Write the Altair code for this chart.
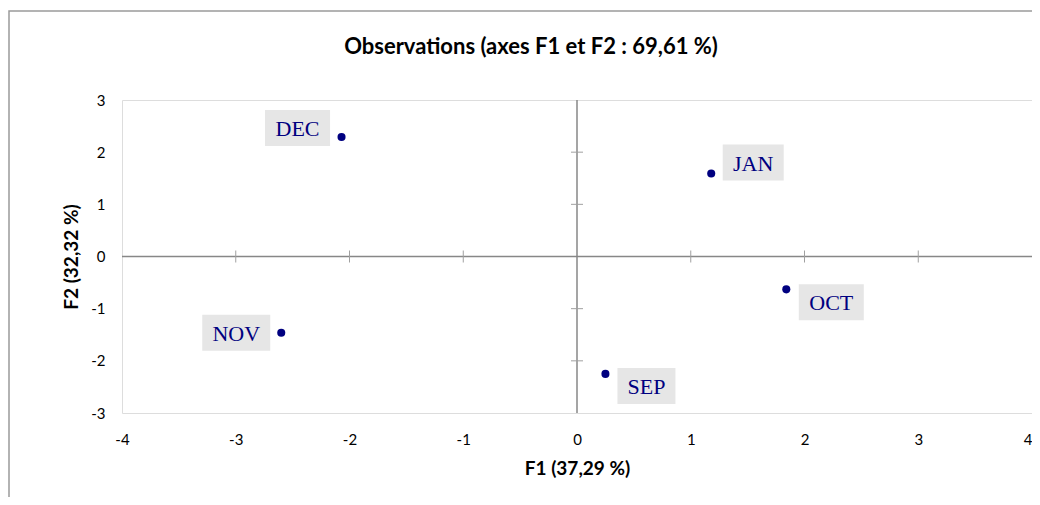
import altair as alt
import pandas as pd

# ---- data ----
months = ["DEC", "JAN", "OCT", "NOV", "SEP"]
f1 = [-2.07, 1.18, 1.84, -2.60, 0.25]
f2 = [2.29, 1.59, -0.63, -1.46, -2.25]

x_ticks = [-4, -3, -2, -1, 0, 1, 2, 3, 4]
y_ticks = [-3, -2, -1, 0, 1, 2, 3]

chart_title = "Observations (axes F1 et F2 : 69,61 %)"
x_title = "F1 (37,29 %)"
y_title = "F2 (32,32 %)"

# ---- layout / style ----
W, H = 910, 313
XMIN, XMAX, YMIN, YMAX = -4, 4, -3, 3
PX_X = W / (XMAX - XMIN)   # pixels per unit
PX_Y = H / (YMAX - YMIN)

# label box placement in pixels relative to the point (dx, dy, box width)
label_style = {
    "DEC": (-44, -9, 65),
    "JAN": (42, -11, 61),
    "OCT": (45, 13, 65),
    "NOV": (-45, 0, 68),
    "SEP": (41, 12, 58),
}

NAVY = "#000080"
GRAY = "#878787"
UI_FONT = "Lato"
LBL_FONT = "Liberation Serif, Times New Roman, serif"

df = pd.DataFrame({"month": months, "F1": f1, "F2": f2})
df["dx"] = [label_style[m][0] for m in months]
df["dy"] = [label_style[m][1] for m in months]
df["bw"] = [label_style[m][2] for m in months]

xs = alt.Scale(domain=[XMIN, XMAX], nice=False, zero=False)
ys = alt.Scale(domain=[YMIN, YMAX], nice=False, zero=False)

base = alt.Chart(df)

points = base.mark_point(filled=True, size=65, color=NAVY, opacity=1).encode(
    x=alt.X("F1:Q", scale=xs,
            axis=alt.Axis(values=x_ticks, ticks=False, grid=False, domain=False,
                          labelPadding=19, labelFontSize=15, labelFont=UI_FONT,
                          labelColor="#000000", titleFontSize=19, titleFont=UI_FONT,
                          titleFontWeight="bold", titlePadding=12, titleColor="#000000",
                          title=x_title, labelExpr="toString(datum.value)",
                          labelAlign={"expr": f"datum.value == {XMAX} ? 'right' : 'center'"},
                          labelFlush=False)),
    y=alt.Y("F2:Q", scale=ys,
            axis=alt.Axis(values=y_ticks, ticks=False, grid=False, domain=False,
                          labelPadding=17, labelFontSize=15, labelFont=UI_FONT,
                          labelColor="#000000", titleFontSize=19, titleFont=UI_FONT,
                          titleFontWeight="bold", titlePadding=9, titleColor="#000000",
                          title=y_title, labelExpr="toString(datum.value)",
                          labelFlush=False)),
)

lab = base.transform_calculate(
    lx=f"datum.F1 + datum.dx / {PX_X}",
    ly=f"datum.F2 - datum.dy / {PX_Y}",
).transform_calculate(
    bx1=f"datum.lx - datum.bw / 2 / {PX_X}",
    bx2=f"datum.lx + datum.bw / 2 / {PX_X}",
    by1=f"datum.ly - 18 / {PX_Y}",
    by2=f"datum.ly + 18 / {PX_Y}",
)

boxes = lab.mark_rect(color="#e6e6e6").encode(
    x=alt.X("bx1:Q", scale=xs), x2="bx2:Q",
    y=alt.Y("by1:Q", scale=ys), y2="by2:Q",
)

texts = lab.mark_text(font=LBL_FONT, fontSize=22, color=NAVY,
                      align="center", baseline="middle", dy=1).encode(
    x=alt.X("lx:Q", scale=xs), y=alt.Y("ly:Q", scale=ys), text="month:N"
)

# zero lines
zx = alt.Chart(pd.DataFrame({"v": [0]})).mark_rule(color=GRAY, strokeWidth=1.5).encode(
    x=alt.X("v:Q", scale=xs))
zy = alt.Chart(pd.DataFrame({"v": [0]})).mark_rule(color=GRAY, strokeWidth=1.5).encode(
    y=alt.Y("v:Q", scale=ys))

# cross tick marks on the zero lines
tx = pd.DataFrame({"t": [v for v in x_ticks if v not in (0, XMIN, XMAX)]})
tx["a"] = -6 / PX_Y
tx["b"] = 6 / PX_Y
ticks_x = alt.Chart(tx).mark_rule(color="#a0a0a0", strokeWidth=1).encode(
    x=alt.X("t:Q", scale=xs), y=alt.Y("a:Q", scale=ys), y2="b:Q")

ty = pd.DataFrame({"t": [v for v in y_ticks if v not in (0, YMIN, YMAX)]})
ty["a"] = -6 / PX_X
ty["b"] = 6 / PX_X
ticks_y = alt.Chart(ty).mark_rule(color="#a0a0a0", strokeWidth=1).encode(
    y=alt.Y("t:Q", scale=ys), x=alt.X("a:Q", scale=xs), x2="b:Q")

# outer chart-area frame (decorative)
one = alt.Data(values=[{"k": chart_title}])
frame = alt.Chart(one).mark_rect(
    fill=None, stroke="#9a9a9a", strokeWidth=1.5).encode(
    x=alt.value(-113), x2=alt.value(960), y=alt.value(-89), y2=alt.value(440))

# chart title (centred on the chart area rather than the plot)
title = alt.Chart(one).mark_text(font=UI_FONT, fontSize=22, fontWeight="bold",
                                 color="#000000", align="center", baseline="middle").encode(
    x=alt.value(409), y=alt.value(-53), text="k:N")

chart = alt.layer(frame, title, zx, zy, ticks_x, ticks_y, boxes, texts, points).properties(
    width=W, height=H,
    autosize=alt.AutoSizeParams(type="none"),
    padding={"left": 114, "top": 92, "right": 0, "bottom": 84},
).configure_view(stroke=GRAY, strokeWidth=1.5).configure(background="white")

chart.save("out.html", embed_options={"renderer": "svg", "actions": False})
